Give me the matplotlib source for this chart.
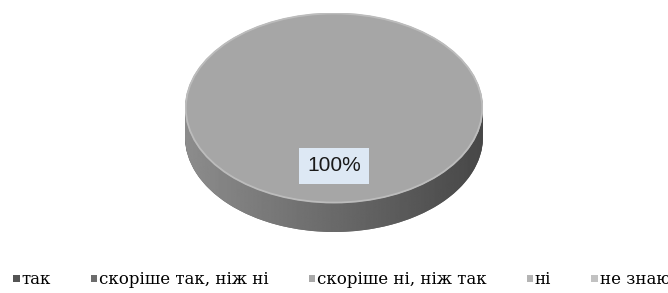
import numpy as np
import matplotlib
matplotlib.use("Agg")
import matplotlib.pyplot as plt
from matplotlib.patches import Patch, Ellipse
from matplotlib.path import Path
from matplotlib.patches import PathPatch

# data
labels = ["так", "скоріше так, ніж ні", "скоріше ні, ніж так", "ні", "не знаю"]
values = [100, 0, 0, 0, 0]
legend_colors = ["#545454", "#6c6c6c", "#a8a8a8", "#b4b4b4", "#c2c2c2"]

top_color = "#a6a6a6"
side_color = "#6c6c6c"
depth = 0.305

fig = plt.figure(figsize=(6.68, 2.93), dpi=100)
W, H = 668, 293
ax = fig.add_axes([185 / W, (H - 232) / H, 298 / W, 219 / H])

# side of the "3d" disc: stacked copies going down
for k in np.linspace(depth, 0.02, 40):
    ax.pie(values, colors=[side_color] * len(values), startangle=90,
           counterclock=False, center=(0, -k), radius=1,
           wedgeprops=dict(linewidth=0))

# shading on the side (lighter left, darker right)
t = np.linspace(np.pi, 2 * np.pi, 100)
xs = np.concatenate([np.cos(t), np.cos(t[::-1])])
ys = np.concatenate([np.sin(t), np.sin(t[::-1]) - depth])
side_clip = PathPatch(Path(np.column_stack([xs, ys])), facecolor="none",
                      edgecolor="none", transform=ax.transData)
ax.add_patch(side_clip)
gx = np.linspace(0, 1, 256)
shade = 0.55 - 0.27 * gx
grad = np.tile(shade, (2, 1))
im = ax.imshow(grad, cmap="gray", vmin=0, vmax=1, extent=(-1, 1, -1 - depth, 0),
               aspect="auto", zorder=2, interpolation="bilinear")
im.set_clip_path(side_clip)

# top face
wedges, texts, autotexts = ax.pie(
    values, colors=[top_color] * len(values), startangle=90,
    counterclock=False, radius=1,
    autopct=lambda p: "%d%%" % round(p) if p > 0 else "",
    pctdistance=0.61,
    wedgeprops=dict(linewidth=0, zorder=3),
    textprops=dict(family="Liberation Sans", fontsize=15, color="#1a1a1a", zorder=5))
for tx in autotexts:
    tx.set_bbox(dict(facecolor="#dde8f4", edgecolor="none", pad=6))
ax.add_patch(Ellipse((0, 0), 1.99, 1.99, fill=False, edgecolor="#bcbcbc",
                     linewidth=1.3, zorder=4))

ax.set_aspect("auto")
ax.set_xlim(-1, 1)
ax.set_ylim(-1 - depth, 1)
ax.axis("off")

handles = [Patch(facecolor=c, edgecolor="none") for c in legend_colors]
fig.legend(handles, labels, loc="center left", ncol=5,
           bbox_to_anchor=(13 / W, 1 - 280 / H), frameon=False,
           prop=dict(family="DejaVu Serif", size=12),
           handlelength=0.4, handleheight=0.3, handletextpad=0.1,
           columnspacing=2.4, borderaxespad=0, borderpad=0)

fig.savefig("out.png", dpi=100)
